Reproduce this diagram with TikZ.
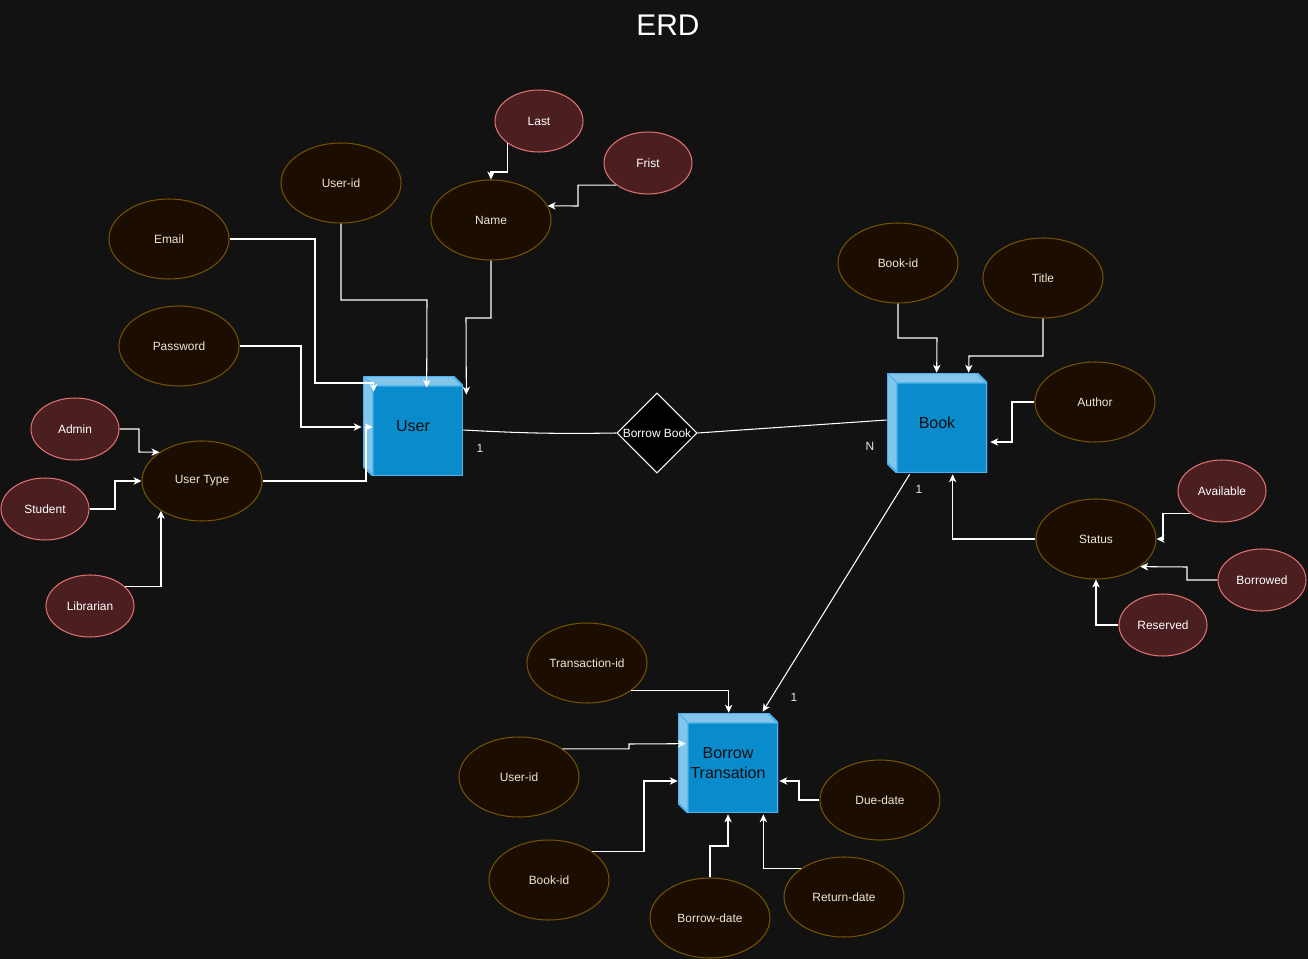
\documentclass[tikz,border=0pt]{standalone}
\usepackage{fontspec}
\setmainfont{Liberation Sans}
\usepackage{tikz}
\usetikzlibrary{positioning,calc,shapes.geometric,arrows.meta}
\definecolor{bgcol}{HTML}{121212}
\definecolor{attrfill}{HTML}{1B0D00}
\definecolor{attrline}{HTML}{735300}
\definecolor{attrtext}{HTML}{F0E6D6}
\definecolor{subfill}{HTML}{4B1F1F}
\definecolor{subline}{HTML}{E07070}
\definecolor{cubefront}{HTML}{0A8BCB}
\definecolor{cubelight}{HTML}{84C5EA}
\definecolor{cubeline}{HTML}{4CB1EE}
\definecolor{cubetext}{HTML}{101010}
\definecolor{cardtext}{HTML}{E6E6E6}
\tikzset{
	attr/.style={ellipse,draw=attrline,fill=attrfill,text=attrtext,line width=0.6pt,minimum width=2.4cm,minimum height=1.6cm,inner sep=0pt,font=\fontsize{6.8pt}{8pt}\selectfont},
	subattr/.style={ellipse,draw=subline,fill=subfill,text=white,line width=0.6pt,minimum width=1.76cm,minimum height=1.24cm,inner sep=0pt,font=\fontsize{6.8pt}{8pt}\selectfont},
	entity/.style={rectangle,minimum width=2cm,minimum height=2cm,inner sep=0pt,text=cubetext,align=center,font=\fontsize{9.1pt}{11.3pt}\selectfont,
		path picture={
			\coordinate (pnw) at (path picture bounding box.north west);
			\coordinate (pse) at (path picture bounding box.south east);
			\fill[cubelight] (pnw) -- ($(pnw)+(1.8cm,0)$) -- ($(pnw)+(2cm,-0.2cm)$) -- (pse) -- ($(pse)+(-1.8cm,0)$) -- ($(pse)+(-2cm,0.2cm)$) -- cycle;
			\fill[cubefront] ($(pnw)+(0.2cm,-0.2cm)$) rectangle (pse);
			\draw[cubeline,line width=1.2pt] (pnw) -- ($(pnw)+(1.8cm,0)$) -- ($(pnw)+(2cm,-0.2cm)$) -- (pse) -- ($(pse)+(-1.8cm,0)$) -- ($(pse)+(-2cm,0.2cm)$) -- cycle;
			\draw[cubeline,line width=0.6pt] (pnw) -- ($(pnw)+(0.2cm,-0.2cm)$) -- ($(pnw)+(2cm,-0.2cm)$) ($(pnw)+(0.2cm,-0.2cm)$) -- ($(pse)+(-1.8cm,0)$);
		}},
	relation/.style={diamond,draw=white,fill=black,line width=0.6pt,minimum width=1.6cm,minimum height=1.6cm,inner sep=0pt,aspect=1},
	conn/.style={draw=white,line width=0.6pt,-{Stealth[length=4.5pt,width=4.2pt,inset=1.3pt]}},
	link/.style={draw=white,line width=0.6pt},
	card/.style={text=cardtext,inner sep=0pt,font=\fontsize{6.8pt}{8pt}\selectfont},
}
\begin{document}
\begin{tikzpicture}[x=0.02cm,y=-0.02cm]
		\useasboundingbox (0,0) rectangle (1308,959);
		\fill[bgcol] (0,0) rectangle (1308,959);
		\node[text=white,font=\fontsize{17pt}{20pt}\selectfont] (title) at (668,25) {ERD};

		\node[entity] (user) at (413,426) {User};
		\node[entity] (book) at (937,423) {Book};
		\node[entity] (trans) at (728,763) {Borrow\\Transation};
		\node[relation,label={[text=white,font=\fontsize{6.8pt}{8pt}\selectfont]center:Borrow Book}] (borrow) at (657,433) {};

		\node[attr] (email) at (169,239) {Email};
		\node[attr] (userid) at (341,183) {User-id};
		\node[attr] (name) at (491,220) {Name};
		\node[attr] (password) at (179,346) {Password};
		\node[attr] (usertype) at (202,481) {User Type};
		\node[subattr] (last) at (539,121) {Last};
		\node[subattr] (first) at (648,163) {Frist};
		\node[subattr] (admin) at (75,429) {Admin};
		\node[subattr] (student) at (45,509) {Student};
		\node[subattr] (librarian) at (90,606) {Librarian};

		\node[attr] (bookid) at (898,263) {Book-id};
		\node[attr] (title) at (1043,278) {Title};
		\node[attr] (author) at (1095,402) {Author};
		\node[attr] (status) at (1096,539) {Status};
		\node[subattr] (available) at (1222,491) {Available};
		\node[subattr] (borrowed) at (1262,580) {Borrowed};
		\node[subattr] (reserved) at (1163,625) {Reserved};

		\node[attr] (transid) at (587,663) {Transaction-id};
		\node[attr] (tuserid) at (519,777) {User-id};
		\node[attr] (tbookid) at (549,880) {Book-id};
		\node[attr] (duedate) at (880,800) {Due-date};
		\node[attr] (borrowdate) at (710,918) {Borrow-date};
		\node[attr] (returndate) at (844,897) {Return-date};

		\node[card] (cuser) at (480,448) {1};
		\node[card] (cbook) at (870,446) {N};
		\node[card] (cbookt) at (919,489) {1};
		\node[card] (ctrans) at (794,697) {1};

		\draw[link] ($(user.east)+(0,4)$) to[bend right=2] (borrow.west);
		\draw[link] (borrow.east) -- ($(book.west)+(0,-3)$);
		\draw[conn] ($(book.south west)+(23,1)$) -- ($(trans.north west)+(85,-1)$);

		\draw[conn] (email.east) -| (315,383) -| ($(user.north west)+(11,16)$);
		\draw[conn] (userid.south) |- (427,300) -- ($(user.north west)+(64,12)$);
		\draw[conn] (name.south) |- (466,318) -- ($(user.north east)+(3,19)$);
		\draw[conn] (password.east) -| (301,427) -- ($(user.west)+(-1,1)$);
		\draw[conn] (usertype.east) -| (366,427) -- ($(user.west)+(10,1)$);
		\draw[conn] (last.215) |- (491,172) -- (name.north);
		\draw[conn] (first.215) -| (578,206) -- (name.14);
		\draw[conn] (admin.east) -| (139,452) -- (usertype.146);
		\draw[conn] (student.east) -| (115,481) -- (usertype.west);
		\draw[conn] (librarian.30) -| (usertype.216);

		\draw[conn] (bookid.south) |- (937,338) -- ($(book.north west)+(50,0)$);
		\draw[conn] (title.south) |- (969,356) -- ($(book.north west)+(82,0)$);
		\draw[conn] (author.west) -| (1012,442) -- ($(book.east)+(3,19)$);
		\draw[conn] (status.west) -| ($(book.south west)+(66,1)$);
		\draw[conn] (available.215) -| (1163,530) |- (status.east);
		\draw[conn] (borrowed.west) -| (1187,567) -- (status.-32);
		\draw[conn] (reserved.west) -| (status.south);

		\draw[conn] (transid.-32) -| ($(trans.north west)+(51,0)$);
		\draw[conn] (tuserid.33) -| (629,744) -- ($(trans.north west)+(8,31)$);
		\draw[conn] (tbookid.33) -| (644,781) -- ($(trans.west)+(0,18)$);
		\draw[conn] (duedate.west) -| (799,781) -- ($(trans.east)+(1,18)$);
		\draw[conn] (borrowdate.north) |- (728,846) -- ($(trans.south)+(0,1)$);
		\draw[conn] (returndate.146) -| ($(trans.south east)+(-15,1)$);
	\end{tikzpicture}
\end{document}
